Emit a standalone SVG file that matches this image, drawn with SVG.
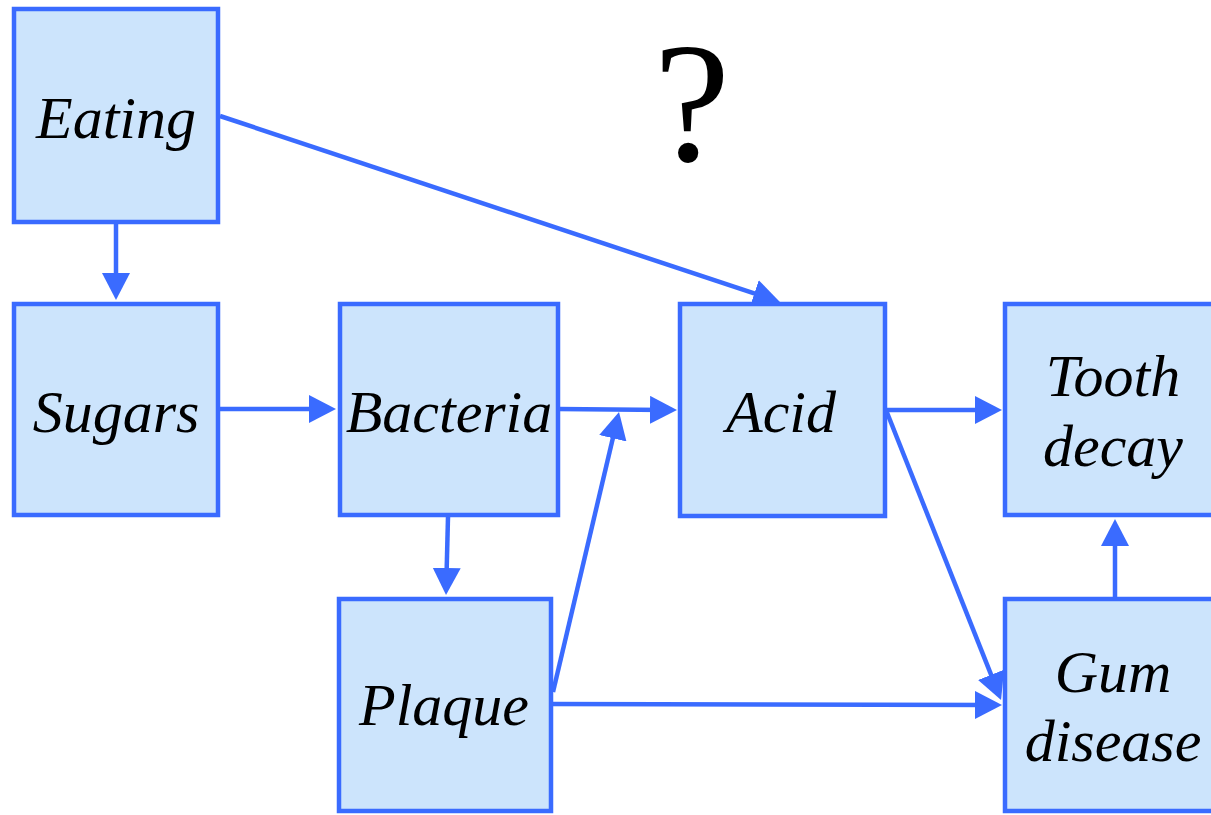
<svg xmlns="http://www.w3.org/2000/svg" width="1211" height="815" viewBox="0 0 1211 815">
<style>
.box{fill:#cce4fc;stroke:#3a6bff;stroke-width:4.5}
.lbl{font-family:"Liberation Serif","Times New Roman",serif;font-style:italic;font-size:60px;fill:#000;text-anchor:middle}
.edge{stroke:#3a6bff;stroke-width:4.5;fill:none;marker-end:url(#ah)}
</style>
<defs>
<marker id="ah" markerUnits="userSpaceOnUse" markerWidth="30" markerHeight="30" refX="16" refY="14" orient="auto">
<path d="M0,0 L27,14 L0,28 z" fill="#3a6bff"/>
</marker>
</defs>
<rect width="1211" height="815" fill="#fff"/>
<text x="692" y="161" font-family="'Liberation Serif','Times New Roman',serif" font-size="172" text-anchor="middle" fill="#000">?</text>
<g id="connectors">
<line class="edge" x1="116" y1="224" x2="116" y2="289"/>
<line class="edge" x1="220" y1="116" x2="769.5" y2="298.5"/>
<line class="edge" x1="220" y1="409" x2="325" y2="409"/>
<line class="edge" x1="558" y1="409" x2="666" y2="410"/>
<line class="edge" x1="553" y1="692" x2="616.5" y2="422.7"/>
<line class="edge" x1="448" y1="517" x2="446.3" y2="584"/>
<line class="edge" x1="551" y1="704" x2="991" y2="705"/>
<line class="edge" x1="885" y1="410" x2="991" y2="410"/>
<line class="edge" x1="886" y1="410" x2="997" y2="689.7"/>
<line class="edge" x1="1115" y1="597" x2="1115" y2="530"/>
</g>
<g id="eating"><rect class="box" x="14" y="9" width="204" height="213"/><text class="lbl" x="116" y="138">Eating</text></g>
<g id="sugars"><rect class="box" x="14" y="304" width="204" height="211"/><text class="lbl" x="116" y="432">Sugars</text></g>
<g id="bacteria"><rect class="box" x="340" y="304" width="218" height="211"/><text class="lbl" x="449" y="432">Bacteria</text></g>
<g id="acid"><rect class="box" x="680" y="304" width="205" height="212"/><text class="lbl" x="781" y="432">Acid</text></g>
<g id="tooth-decay"><rect class="box" x="1005" y="304" width="210" height="211"/><text class="lbl" x="1113" y="396">Tooth</text><text class="lbl" x="1113" y="466">decay</text></g>
<g id="plaque"><rect class="box" x="339" y="599" width="212" height="212"/><text class="lbl" x="444" y="725">Plaque</text></g>
<g id="gum-disease"><rect class="box" x="1005" y="599" width="210" height="212"/><text class="lbl" x="1113" y="692">Gum</text><text class="lbl" x="1113" y="761">disease</text></g>
</svg>
